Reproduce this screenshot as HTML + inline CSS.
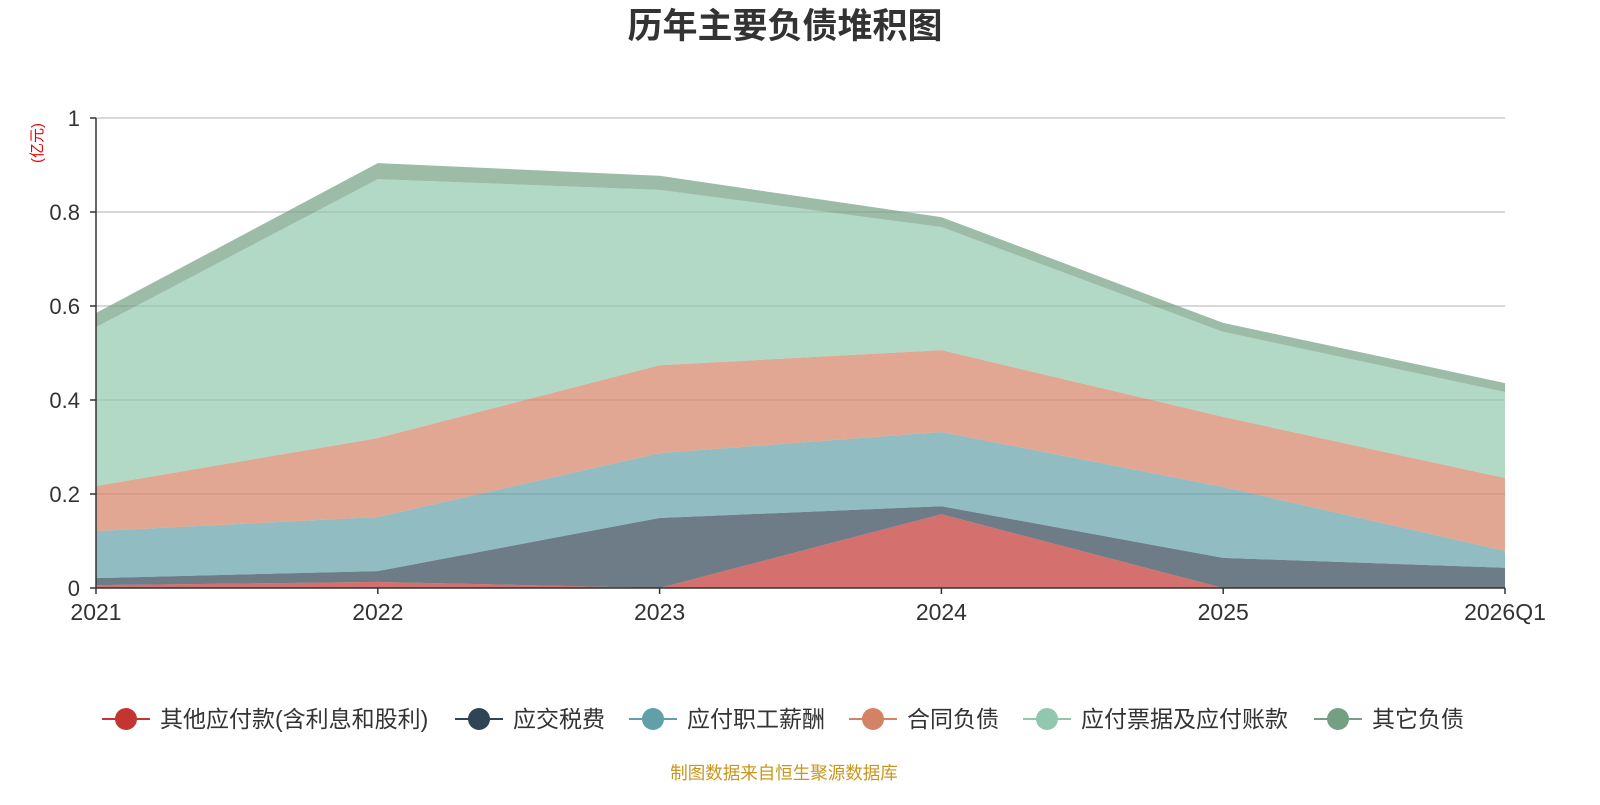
<!DOCTYPE html>
<html><head><meta charset="utf-8"><style>
body{margin:0;background:#fff;font-family:"Liberation Sans","Noto Sans CJK SC",sans-serif;}
svg text{font-family:"Liberation Sans","Noto Sans CJK SC",sans-serif;}
</style></head><body>
<svg id="chart" width="1600" height="800">
<text x="785" y="38" text-anchor="middle" font-size="35" font-weight="bold" fill="#333">历年主要负债堆积图</text>
<text transform="translate(42,143) rotate(-90)" text-anchor="middle" font-size="15" fill="#e00">(亿元)</text>
<g id="grid"></g><g id="areas"></g><g id="axes"></g><g id="legend"></g>
<text x="784" y="779" text-anchor="middle" font-size="17.5" fill="#c8961e">制图数据来自恒生聚源数据库</text>
</svg>
<script>
const categories=["2021","2022","2023","2024","2025","2026Q1"];
const seriesNames=["其他应付款(含利息和股利)","应交税费","应付职工薪酬","合同负债","应付票据及应付账款","其它负债"];
const otherPayables=[0.006,0.013,0.0,0.157,0.0,0.0];
const taxes=[0.015,0.023,0.149,0.017,0.064,0.043];
const salaries=[0.100,0.115,0.138,0.158,0.151,0.036];
const contracts=[0.096,0.168,0.187,0.174,0.149,0.155];
const billsPayable=[0.338,0.551,0.373,0.262,0.181,0.183];
const otherLiab=[0.030,0.034,0.030,0.021,0.019,0.019];
const yTicks=[0,0.2,0.4,0.6,0.8,1];
const yTickLabels=["0","0.2","0.4","0.6","0.8","1"];
const colors=["#c23531","#2f4554","#61a0a8","#d48265","#91c7ae","#749f83"];
const series=[otherPayables,taxes,salaries,contracts,billsPayable,otherLiab];
const NS="http://www.w3.org/2000/svg";
const X0=96,X1=1505,Y0=588,Y1=118;
const xs=i=>X0+(X1-X0)*i/(categories.length-1);
const ys=v=>Y0-(Y0-Y1)*v;
function mk(tag,attrs,parent){const e=document.createElementNS(NS,tag);for(const k in attrs)e.setAttribute(k,attrs[k]);parent.appendChild(e);return e;}
const grid=document.getElementById('grid'),axes=document.getElementById('axes'),areas=document.getElementById('areas'),legend=document.getElementById('legend');
yTicks.forEach((t,i)=>{
 if(t>0){const l=mk('line',{x1:X0,x2:X1,y1:ys(t),y2:ys(t),stroke:'#ccc','stroke-width':1.5},grid);
 
 }
 const tx=mk('text',{x:80,y:ys(t)+8,'text-anchor':'end','font-size':22,fill:'#333'},axes);tx.textContent=yTickLabels[i];
 
 
 mk('line',{x1:X0-6,x2:X0,y1:ys(t),y2:ys(t),stroke:'#333','stroke-width':1.5},axes);
});
let base=categories.map(()=>0);
series.forEach((s,si)=>{
 const top=base.map((b,i)=>b+s[i]);
 let pts=top.map((v,i)=>xs(i)+','+ys(v));
 for(let i=categories.length-1;i>=0;i--)pts.push(xs(i)+','+ys(base[i]));
 const p=mk('polygon',{points:pts.join(' '),fill:colors[si],'fill-opacity':0.7,stroke:'none'},areas);
 
 
 base=top;
});
mk('line',{x1:X0,x2:X0,y1:Y1,y2:Y0,stroke:'#333','stroke-width':1.5},axes);
mk('line',{x1:X0,x2:X1,y1:Y0,y2:Y0,stroke:'#333','stroke-width':1.5},axes);
categories.forEach((c,i)=>{
 mk('line',{x1:xs(i),x2:xs(i),y1:Y0,y2:Y0+6,stroke:'#333','stroke-width':1.5},axes);
 const t=mk('text',{x:xs(i),y:620,'text-anchor':'middle','font-size':23,fill:'#333'},axes);t.textContent=c;
 
 
});
const legX=[102,455,629,849,1023,1314];
seriesNames.forEach((n,i)=>{
 const g=mk('g',{},legend);
 
 
 const x=legX[i];
 mk('line',{x1:x,x2:x+48,y1:719,y2:719,stroke:colors[i],'stroke-width':2},g);
 mk('circle',{cx:x+24,cy:719,r:11,fill:colors[i]},g);
 const t=mk('text',{x:x+58,y:727,'font-size':23,fill:'#333'},g);t.textContent=n;
});
</script>
</body></html>
